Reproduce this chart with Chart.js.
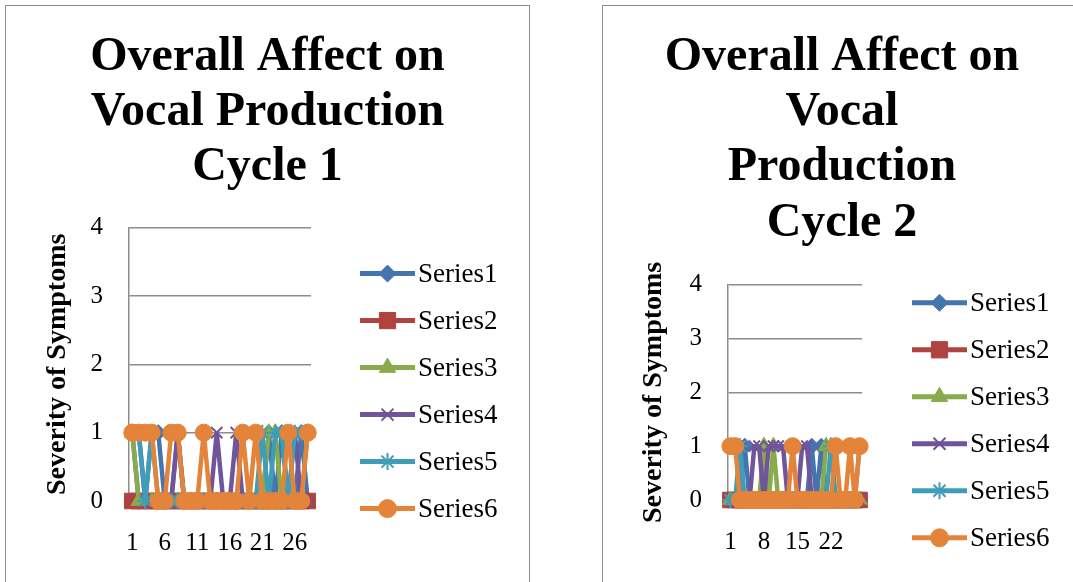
<!DOCTYPE html>
<html>
<head>
<meta charset="utf-8">
<script src="https://cdn.jsdelivr.net/npm/chart.js"></script>
<style>
  html, body { margin: 0; padding: 0; background: #fff; }
  body { width: 1073px; height: 582px; overflow: hidden; position: relative; }
  .box { position: absolute; top: 5px; height: 600px; border: 1.5px solid #8c8c8c; box-sizing: border-box; background: #fff; }
  #box1 { left: 5px; width: 525px; }
  #box2 { left: 602px; width: 490px; }
  canvas { position: absolute; left: 0; top: 0; }
</style>
</head>
<body>
<div class="box" id="box1"><canvas id="cycle1" width="523" height="577"></canvas></div>
<div class="box" id="box2"><canvas id="cycle2" width="478" height="577"></canvas></div>
<script>
// category labels (days)
const days = ['1','2','3','4','5','6','7','8','9','10','11','12','13','14',
              '15','16','17','18','19','20','21','22','23','24','25','26','27','28'];
const seriesNames = ['Series1', 'Series2', 'Series3', 'Series4', 'Series5', 'Series6'];
const yTicks = [0, 1, 2, 3, 4];

// Cycle 1 severity values
const c1s1 = [1,0,0,1,1,0,0,1,0,0,0,0,0,0,0,0,0,0,0,0,0,1,0,1,0,0,1,0];
const c1s2 = [0,0,0,0,0,0,0,0,0,0,0,0,0,0,0,0,0,0,0,0,0,0,0,0,0,0,0,0];
const c1s3 = [1,0,0,0,0,0,0,0,0,0,0,0,0,0,0,0,0,0,0,0,0,1,1,0,0,0,0,1];
const c1s4 = [1,1,0,0,0,0,0,1,0,0,0,0,0,1,0,0,1,0,0,0,0,0,0,0,0,1,0,0];
const c1s5 = [1,1,0,1,0,0,0,0,0,0,0,0,0,0,0,0,0,0,0,0,1,0,1,1,0,1,1,1];
const c1s6 = [1,1,1,1,0,0,1,1,0,0,0,1,0,0,0,0,0,1,0,1,0,0,0,0,1,0,0,1];

// Cycle 2 severity values
const c2s1 = [0,0,0,1,0,0,0,0,0,0,0,0,0,0,0,0,0,1,0,1,0,0,0,0,0,0,0,0];
const c2s2 = [0,0,0,0,0,0,0,0,0,0,0,0,0,0,0,0,0,0,0,0,0,0,0,0,0,0,0,0];
const c2s3 = [0,0,0,0,0,0,0,1,0,1,0,0,0,0,0,0,0,0,0,0,1,1,0,0,0,0,0,0];
const c2s4 = [0,0,0,0,0,1,1,0,1,1,1,1,0,0,0,1,1,0,0,0,0,0,0,0,0,0,0,0];
const c2s5 = [0,0,1,0,0,0,0,0,0,0,0,0,0,0,0,0,0,0,0,0,0,1,0,0,0,0,0,1];
const c2s6 = [1,1,0,0,0,0,0,0,0,0,0,0,0,1,0,0,0,0,0,0,0,0,1,0,0,1,0,1];

const colors = ['#4674ad', '#ae4340', '#8aab4b', '#70559b', '#3f9db8', '#e3843a'];
const markers = ['rectRot', 'rect', 'triangle', 'crossRot', 'star', 'circle'];
const radii = [8, 11, 9, 8, 8, 8.5];

const serif = "'Liberation Serif', 'Times New Roman', serif";

function makeDatasets(values) {
    return values.map((data, i) => ({
        label: seriesNames[i],
        data: data,
        borderColor: colors[i],
        backgroundColor: colors[i],
        pointBackgroundColor: colors[i],
        pointBorderColor: colors[i],
        borderWidth: 4.5,
        pointStyle: markers[i],
        pointRadius: radii[i],
        pointBorderWidth: (markers[i] === 'crossRot' || markers[i] === 'star') ? 2 : 1,
        tension: 0,
        clip: false,
        order: 6 - i
    }));
}

// legend drawn as line + marker + name, like the spreadsheet legend
const lineLegend = {
    id: 'lineLegend',
    afterDraw(chart, args, opts) {
        const ctx = chart.ctx;
        const area = chart.chartArea;
        const x0 = area.right + opts.dx;
        ctx.save();
        chart.data.datasets.forEach((ds, i) => {
            const y = area.top + opts.dy + i * opts.step;
            ctx.strokeStyle = ds.borderColor;
            ctx.lineWidth = 5;
            ctx.beginPath();
            ctx.moveTo(x0, y);
            ctx.lineTo(x0 + 55, y);
            ctx.stroke();
            ctx.fillStyle = ds.backgroundColor;
            ctx.strokeStyle = ds.borderColor;
            ctx.lineWidth = ds.pointBorderWidth;
            Chart.helpers.drawPoint(ctx, {
                pointStyle: ds.pointStyle,
                radius: ds.pointRadius + 0.5,
                rotation: 0,
                borderWidth: ds.pointBorderWidth
            }, x0 + 27.5, y);
            ctx.fillStyle = '#000';
            ctx.font = '27px ' + serif;
            ctx.textBaseline = 'middle';
            ctx.textAlign = 'left';
            ctx.fillText(ds.label, x0 + 58, y + 1);
        });
        ctx.restore();
    }
};

function makeChart(id, titleLines, values, cfg) {
    return new Chart(document.getElementById(id), {
        type: 'line',
        data: { labels: days, datasets: makeDatasets(values) },
        plugins: [lineLegend],
        options: {
            responsive: false,
            animation: false,
            layout: { padding: 0 },
            plugins: {
                legend: { display: false },
                tooltip: { enabled: false },
                title: {
                    display: true,
                    text: titleLines,
                    color: '#000',
                    font: { family: serif, size: 48, weight: 'bold', lineHeight: 1.15 },
                    padding: { top: 24, bottom: cfg.titleGap }
                },
                lineLegend: { dx: cfg.legendDx, dy: cfg.legendDy, step: 47 }
            },
            scales: {
                x: {
                    offset: true,
                    grid: { display: false, drawTicks: false },
                    border: { display: true, color: '#8c8c8c', width: 1.5 },
                    ticks: {
                        autoSkip: false,
                        maxRotation: 0,
                        padding: 27,
                        color: '#000',
                        font: { family: serif, size: 25 },
                        callback: function(v, idx) { return idx % cfg.every === 0 ? days[idx] : ''; }
                    },
                    afterFit: function(scale) { scale.height = cfg.xHeight; }
                },
                y: {
                    min: yTicks[0],
                    max: yTicks[yTicks.length - 1],
                    grid: { color: '#8c8c8c', lineWidth: 1.5, drawTicks: false },
                    border: { display: true, color: '#8c8c8c', width: 1.5 },
                    ticks: {
                        stepSize: 1,
                        padding: 26,
                        color: '#000',
                        font: { family: serif, size: 25 }
                    },
                    title: {
                        display: true,
                        text: 'Severity of Symptoms',
                        color: '#000',
                        font: { family: serif, size: 28, weight: 'bold' },
                        padding: { top: cfg.yTitleOffset, bottom: 0 }
                    },
                    afterFit: function(scale) { scale.width = cfg.yWidth; }
                },
                // empty right-hand axis that only reserves room for the legend
                legendSpace: {
                    type: 'linear',
                    position: 'right',
                    display: true,
                    grid: { display: false, drawTicks: false },
                    border: { display: false },
                    ticks: { display: false },
                    afterFit: function(scale) { scale.width = cfg.padRight; }
                }
            }
        }
    });
}

makeChart('cycle1', ['Overall Affect on', 'Vocal Production', 'Cycle 1'],
    [c1s1, c1s2, c1s3, c1s4, c1s5, c1s6],
    { padRight: 218, yWidth: 123, yTitleOffset: 35, xHeight: 82, titleGap: 32, every: 5, legendDx: 49, legendDy: 46 });

makeChart('cycle2', ['Overall Affect on', 'Vocal', 'Production', 'Cycle 2'],
    [c2s1, c2s2, c2s3, c2s4, c2s5, c2s6],
    { padRight: 219, yWidth: 125, yTitleOffset: 34, xHeight: 83, titleGap: 34, every: 7, legendDx: 50, legendDy: 18 });
</script>
</body>
</html>
